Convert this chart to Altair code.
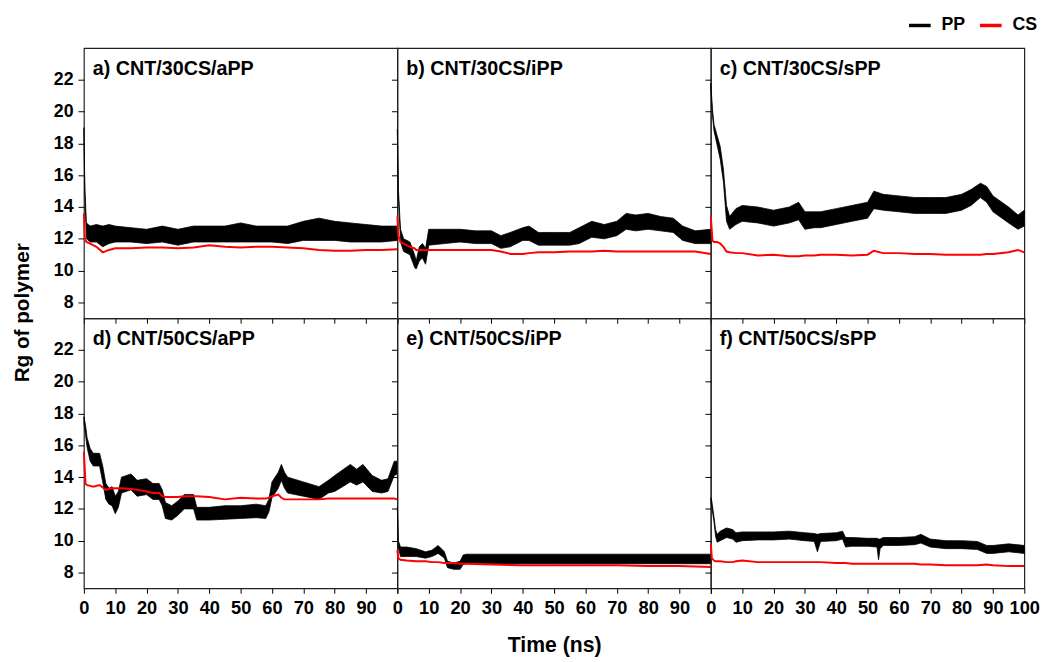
import altair as alt
import pandas as pd

# ---------------- data ----------------
LABELS = ["a) CNT/30CS/aPP", "b) CNT/30CS/iPP", "c) CNT/30CS/sPP",
          "d) CNT/50CS/aPP", "e) CNT/50CS/iPP", "f) CNT/50CS/sPP"]

# panel a
T_A = [0, 0.3, 0.8, 2, 4, 6, 8, 10, 15, 20, 25, 30, 35, 40, 45, 50, 55, 60, 65, 70, 75, 80, 85, 90, 95, 100]
PP_LO_A = [18.8, 14.8, 12.0, 11.8, 11.8, 11.5, 11.7, 11.8, 11.8, 11.7, 11.8, 11.6, 11.8, 11.8, 11.8, 11.8, 11.8, 11.8, 11.7, 11.9, 11.9, 11.9, 11.8, 11.8, 11.8, 11.9]
PP_HI_A = [19.0, 15.2, 13.0, 12.8, 12.9, 12.8, 12.9, 12.8, 12.7, 12.6, 12.8, 12.6, 12.8, 12.8, 12.8, 13.0, 12.8, 12.8, 12.8, 13.1, 13.3, 13.1, 13.0, 12.9, 12.8, 12.8]
CS_A = [13.6, 12.0, 11.8, 11.7, 11.5, 11.15, 11.3, 11.4, 11.4, 11.45, 11.45, 11.4, 11.45, 11.6, 11.5, 11.45, 11.5, 11.5, 11.45, 11.4, 11.3, 11.25, 11.25, 11.3, 11.3, 11.35]

# panel b
T_B = [0, 0.3, 1, 2, 4, 5.5, 6, 7, 8, 9, 10, 15, 20, 25, 30, 33, 36, 40, 42, 45, 50, 55, 58, 62, 66, 70, 73, 76, 80, 84, 88, 91, 95, 100]
PP_LO_B = [18.7, 14.8, 11.8, 11.2, 11.0, 10.2, 10.1, 10.6, 10.8, 10.4, 11.6, 11.7, 11.8, 11.7, 11.7, 11.4, 11.5, 11.9, 11.9, 11.6, 11.6, 11.6, 11.7, 12.1, 12.0, 12.2, 12.6, 12.5, 12.6, 12.5, 12.4, 11.9, 11.7, 11.7]
PP_HI_B = [18.9, 15.2, 12.6, 12.0, 11.8, 11.0, 10.6, 11.5, 11.7, 11.4, 12.6, 12.6, 12.6, 12.5, 12.5, 12.2, 12.4, 12.7, 12.8, 12.4, 12.4, 12.4, 12.7, 13.1, 12.9, 13.1, 13.6, 13.5, 13.6, 13.4, 13.3, 12.8, 12.5, 12.6]
CS_B = [13.4, 12.2, 11.8, 11.7, 11.5, 11.4, 11.3, 11.3, 11.3, 11.3, 11.3, 11.3, 11.3, 11.3, 11.3, 11.2, 11.05, 11.05, 11.1, 11.15, 11.15, 11.2, 11.2, 11.2, 11.25, 11.2, 11.2, 11.2, 11.2, 11.2, 11.2, 11.2, 11.2, 11.05]

# panel c
T_C = [0, 0.5, 1, 2, 3, 4, 5, 6, 8, 10, 15, 20, 25, 28, 30, 33, 35, 40, 45, 50, 52, 55, 60, 65, 70, 75, 80, 83, 86, 88, 90, 95, 98, 100]
PP_LO_C = [21.4, 19.8, 18.8, 17.9, 17.0, 15.6, 13.1, 12.6, 12.9, 13.1, 13.0, 12.8, 13.0, 13.2, 12.6, 12.7, 12.7, 12.9, 13.1, 13.3, 13.9, 13.8, 13.7, 13.6, 13.6, 13.6, 13.8, 14.1, 14.6, 14.3, 13.7, 13.0, 12.6, 12.8]
PP_HI_C = [21.8, 20.2, 19.2, 18.5, 17.8, 16.4, 14.1, 13.4, 13.9, 14.1, 14.0, 13.8, 14.0, 14.3, 13.7, 13.7, 13.7, 13.9, 14.1, 14.3, 15.0, 14.8, 14.7, 14.6, 14.6, 14.6, 14.8, 15.1, 15.5, 15.3, 14.7, 14.0, 13.5, 13.8]
CS_C = [13.4, 11.9, 11.8, 11.8, 11.7, 11.5, 11.2, 11.15, 11.1, 11.1, 10.95, 11.0, 10.9, 10.9, 10.95, 10.95, 11.0, 11.0, 10.95, 11.0, 11.25, 11.1, 11.1, 11.05, 11.05, 11.0, 11.0, 11.0, 11.0, 11.05, 11.05, 11.15, 11.3, 11.15]

# panel d
T_D = [0, 0.5, 1, 2, 3, 5, 6, 7, 8, 9, 10, 11, 12, 15, 17, 20, 22, 24, 25, 26, 28, 30, 32, 35, 36, 40, 45, 50, 55, 58, 59, 60, 62, 63, 64, 65, 70, 75, 78, 80, 85, 87, 89, 92, 95, 97, 99, 100]
PP_LO_D = [17.4, 16.7, 15.9, 15.0, 14.7, 14.7, 13.7, 12.6, 12.3, 12.2, 11.7, 12.1, 13.0, 13.2, 12.8, 12.9, 12.6, 12.6, 12.2, 11.4, 11.3, 11.6, 12.0, 12.0, 11.3, 11.3, 11.35, 11.4, 11.45, 11.4, 11.8, 12.7, 13.3, 13.8, 13.3, 13.0, 12.8, 12.6, 13.0, 13.1, 13.7, 13.5, 13.7, 13.1, 13.0, 13.1, 14.1, 14.2]
PP_HI_D = [17.8, 17.3, 16.5, 15.8, 15.5, 15.5, 14.7, 13.6, 13.3, 13.4, 12.8, 13.1, 14.0, 14.2, 13.8, 13.9, 13.6, 13.6, 13.2, 12.4, 12.2, 12.5, 12.9, 12.9, 12.1, 12.1, 12.2, 12.2, 12.3, 12.2, 12.6, 13.7, 14.3, 14.8, 14.3, 14.0, 13.7, 13.4, 13.8, 14.1, 14.8, 14.5, 14.8, 14.1, 13.8, 13.9, 15.0, 15.0]
CS_D = [15.6, 13.6, 13.5, 13.45, 13.4, 13.5, 13.35, 13.2, 13.25, 13.3, 13.3, 13.3, 13.3, 13.25, 13.2, 13.1, 13.0, 13.0, 12.8, 12.75, 12.75, 12.75, 12.8, 12.8, 12.8, 12.75, 12.6, 12.7, 12.65, 12.65, 12.7, 12.8, 12.9, 12.7, 12.6, 12.6, 12.6, 12.6, 12.65, 12.65, 12.65, 12.65, 12.65, 12.65, 12.65, 12.65, 12.65, 12.6]

# panel e
T_E = [0, 0.3, 1, 3, 6, 9, 11, 13, 15, 16, 18, 20, 21, 22, 30, 40, 50, 60, 70, 80, 90, 100]
PP_LO_E = [12.0, 9.6, 9.0, 9.0, 9.0, 8.9, 9.0, 9.2, 8.9, 8.3, 8.2, 8.2, 8.5, 8.55, 8.55, 8.55, 8.55, 8.55, 8.55, 8.55, 8.55, 8.55]
PP_HI_E = [12.1, 10.0, 9.6, 9.6, 9.5, 9.3, 9.4, 9.7, 9.3, 8.7, 8.6, 8.7, 9.1, 9.15, 9.15, 9.15, 9.15, 9.15, 9.15, 9.15, 9.15, 9.15]
CS_E = [9.4, 8.9, 8.8, 8.75, 8.7, 8.7, 8.65, 8.65, 8.6, 8.6, 8.6, 8.55, 8.55, 8.55, 8.5, 8.45, 8.45, 8.45, 8.45, 8.4, 8.4, 8.35]

# panel f
T_F = [0, 0.3, 1, 1.5, 2, 3, 5, 7, 8, 10, 15, 20, 25, 30, 33, 34, 35, 40, 42, 43, 45, 50, 53, 53.5, 54, 55, 60, 65, 67, 70, 75, 80, 85, 88, 90, 95, 100]
PP_LO_F = [12.5, 12.1, 11.2, 10.3, 9.9, 10.0, 10.2, 10.1, 9.9, 10.0, 10.05, 10.05, 10.1, 10.0, 9.95, 9.3, 9.95, 10.0, 10.1, 9.6, 9.65, 9.65, 9.6, 8.8, 9.5, 9.7, 9.7, 9.75, 9.85, 9.6, 9.5, 9.5, 9.45, 9.2, 9.2, 9.3, 9.2]
PP_HI_F = [12.7, 12.5, 11.5, 10.7, 10.4, 10.6, 10.8, 10.7, 10.5, 10.55, 10.55, 10.55, 10.6, 10.5, 10.45, 10.4, 10.45, 10.5, 10.6, 10.2, 10.2, 10.15, 10.15, 10.1, 10.1, 10.2, 10.2, 10.25, 10.4, 10.1, 10.0, 10.0, 9.95, 9.7, 9.7, 9.8, 9.7]
CS_F = [9.8, 8.9, 8.75, 8.7, 8.7, 8.7, 8.65, 8.65, 8.7, 8.75, 8.65, 8.65, 8.65, 8.65, 8.65, 8.65, 8.65, 8.6, 8.6, 8.6, 8.55, 8.55, 8.55, 8.55, 8.55, 8.55, 8.55, 8.55, 8.5, 8.5, 8.45, 8.45, 8.45, 8.5, 8.45, 8.4, 8.4]

X_TICKS = [0, 10, 20, 30, 40, 50, 60, 70, 80, 90, 100]
Y_TICKS = [8, 10, 12, 14, 16, 18, 20, 22]
SERIES = ["PP", "CS"]
COLORS = ["#000000", "#ff0000"]

PANELS = [
    (T_A, PP_LO_A, PP_HI_A, CS_A),
    (T_B, PP_LO_B, PP_HI_B, CS_B),
    (T_C, PP_LO_C, PP_HI_C, CS_C),
    (T_D, PP_LO_D, PP_HI_D, CS_D),
    (T_E, PP_LO_E, PP_HI_E, CS_E),
    (T_F, PP_LO_F, PP_HI_F, CS_F),
]

# ---------------- styling ----------------
FONT = "Liberation Sans"
W, H = 318, 274

legend = alt.Legend(
    orient="none", legendX=835, legendY=-36, direction="horizontal",
    title=None, symbolType="stroke", symbolSize=484, symbolStrokeWidth=3.5,
    labelFont=FONT, labelFontSize=18, labelFontWeight="bold", labelColor="black",
    labelOffset=9, columnPadding=7,
)
stroke_enc = alt.Stroke("series:N", scale=alt.Scale(domain=SERIES, range=COLORS), legend=legend)
y_scale = alt.Scale(domain=[7, 24], nice=False, zero=False)
x_scale = alt.Scale(domain=[0, 100], nice=False, zero=False)


def make_panel(i):
    row, col = divmod(i, 3)
    t, lo, hi, cs = PANELS[i]
    pp_df = pd.DataFrame({"t": t, "lo": lo, "hi": hi, "series": "PP"})
    cs_df = pd.DataFrame({"t": t, "cs": cs, "series": "CS"})

    xkw = dict(values=X_TICKS, labels=(row == 1), ticks=True, grid=False, domain=False,
               tickSize=5, tickColor="black", labelFlush=False, labelOverlap=False,
               labelPadding=6, labelFont=FONT, labelFontSize=18.5, labelFontWeight="bold",
               labelColor="black", title=None)
    if col < 2:
        xkw["labelExpr"] = "datum.value == 100 ? '' : datum.label"
    if row == 1 and col == 1:
        xkw.update(title="Time (ns)", titleFont=FONT, titleFontSize=21.5, titleFontWeight="bold",
                   titleColor="black", titleY=64, titleBaseline="alphabetic")
    ykw = dict(values=Y_TICKS, labels=(col == 0), ticks=True, grid=False, domain=False,
               tickSize=6, tickColor="black", labelPadding=5, labelFont=FONT,
               labelFontSize=18, labelFontWeight="bold", labelColor="black", title=None)
    if row == 0 and col == 0:
        ykw.update(title="Rg of polymer", titleFont=FONT, titleFontSize=21, titleFontWeight="bold",
                   titleColor="black", titleX=-52, titleY=268, titleAngle=270,
                   titleAlign="center", titleBaseline="bottom")
    x_axis = alt.Axis(**xkw)
    y_axis = alt.Axis(**ykw)

    area = alt.Chart(pp_df).mark_area(fill="black", strokeWidth=0.8, interpolate="linear").encode(
        x=alt.X("t:Q", scale=x_scale, axis=x_axis),
        y=alt.Y("lo:Q", scale=y_scale, axis=y_axis),
        y2="hi:Q",
        stroke=stroke_enc,
    )
    line = alt.Chart(cs_df).mark_line(strokeWidth=2).encode(
        x=alt.X("t:Q", scale=x_scale, axis=x_axis),
        y=alt.Y("cs:Q", scale=y_scale, axis=y_axis),
        stroke=stroke_enc,
    )
    text = alt.Chart(pd.DataFrame({"label": [LABELS[i]]})).mark_text(
        align="left", baseline="top", font=FONT, fontSize=20, fontWeight="bold", color="black"
    ).encode(x=alt.value(9), y=alt.value(11), text="label:N")
    return alt.layer(area, line, text).properties(width=W, height=H)


chart = alt.concat(*[make_panel(i) for i in range(6)], columns=3, spacing=0, bounds="flush").properties(
    padding={"left": 3, "top": 0, "right": 5, "bottom": 2},
    background="white",
).configure_view(stroke="#222222", strokeWidth=1.2)

chart.save("out.html", embed_options={"renderer": "svg", "actions": False})
